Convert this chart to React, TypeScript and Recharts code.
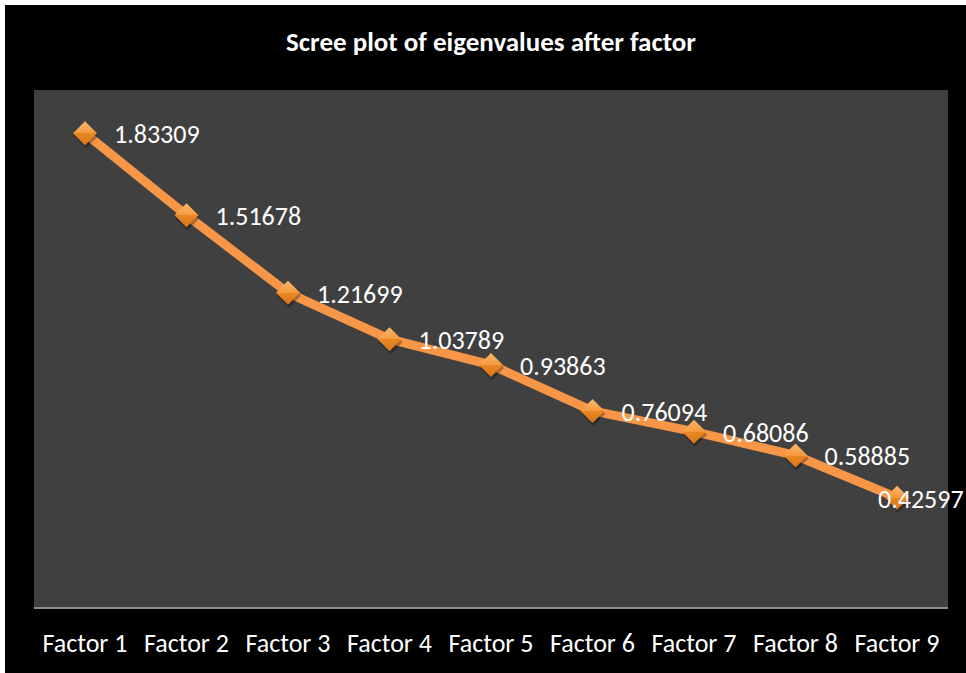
import React from 'react';
import { LineChart, Line, XAxis, YAxis, CartesianGrid, LabelList } from 'recharts';

// Scree plot values
const factors = ['Factor 1', 'Factor 2', 'Factor 3', 'Factor 4', 'Factor 5', 'Factor 6', 'Factor 7', 'Factor 8', 'Factor 9'];
const eigenvalues = [1.83309, 1.51678, 1.21699, 1.03789, 0.93863, 0.76094, 0.68086, 0.58885, 0.42597];
const valueLabels = ['1.83309', '1.51678', '1.21699', '1.03789', '0.93863', '0.76094', '0.68086', '0.58885', '0.42597'];

const chartData = factors.map((name, i) => ({ name, value: eigenvalues[i], label: valueLabels[i] }));

const FONT = 'Carlito, "Open Sans", "Noto Sans", sans-serif';
const ORANGE = '#F79646';

const Diamond = (props: any) => {
  const { cx, cy, index } = props;
  if (cx == null || cy == null) return null;
  const r = 12;
  const id = `dg${index}`;
  return (
    <g key={id}>
      <defs>
        <linearGradient id={id} x1="0" y1="0" x2="0" y2="1">
          <stop offset="0%" stopColor="#FBB66A" />
          <stop offset="50%" stopColor="#F59A3E" />
          <stop offset="51%" stopColor="#E98724" />
          <stop offset="100%" stopColor="#D9761A" />
        </linearGradient>
      </defs>
      <polygon
        points={`${cx + 1},${cy - r + 3} ${cx + r + 1},${cy + 3} ${cx + 1},${cy + r + 3} ${cx - r + 1},${cy + 3}`}
        fill="#000"
        fillOpacity={0.3}
      />
      <polygon points={`${cx},${cy - r} ${cx + r},${cy} ${cx},${cy + r} ${cx - r},${cy}`} fill={`url(#${id})`} />
    </g>
  );
};

const ValueLabel = (props: any) => {
  const { x, y, value, index } = props;
  // last label is pushed left so it stays inside the frame
  const dx = index === factors.length - 1 ? -19 : 29;
  return (
    <text x={x + dx} y={y + 10} fill="#FFFFFF" fontSize={26} fontFamily={FONT}>
      {value}
    </text>
  );
};

export default function App() {
  return (
    <div style={{ position: 'absolute', left: 5, top: 5, width: 961, height: 668, background: '#000' }}>
      <div
        style={{
          position: 'absolute',
          top: 21,
          left: 29,
          width: 914,
          textAlign: 'center',
          color: '#fff',
          fontFamily: FONT,
          fontWeight: 700,
          fontSize: 27,
          lineHeight: '32px',
        }}
      >
        Scree plot of eigenvalues after factor
      </div>
      <LineChart width={961} height={668} data={chartData} margin={{ top: 85, right: 18, left: 29, bottom: 0 }}>
        <CartesianGrid fill="#404040" stroke="none" horizontal={false} vertical={false} />
        <XAxis
          dataKey="name"
          height={65}
          padding={{ left: 51, right: 51 }}
          axisLine={{ stroke: '#8C8C8C', strokeWidth: 2 }}
          tickLine={false}
          tickSize={0}
          tickMargin={26}
          interval={0}
          tick={{ fill: '#FFFFFF', fontSize: 26, fontFamily: FONT }}
        />
        <YAxis hide domain={[0, 2]} />
        <Line
          dataKey="value"
          stroke={ORANGE}
          strokeWidth={9}
          strokeLinejoin="round"
          dot={<Diamond />}
          activeDot={false}
          isAnimationActive={false}
        >
          <LabelList dataKey="label" content={<ValueLabel />} />
        </Line>
      </LineChart>
    </div>
  );
}
